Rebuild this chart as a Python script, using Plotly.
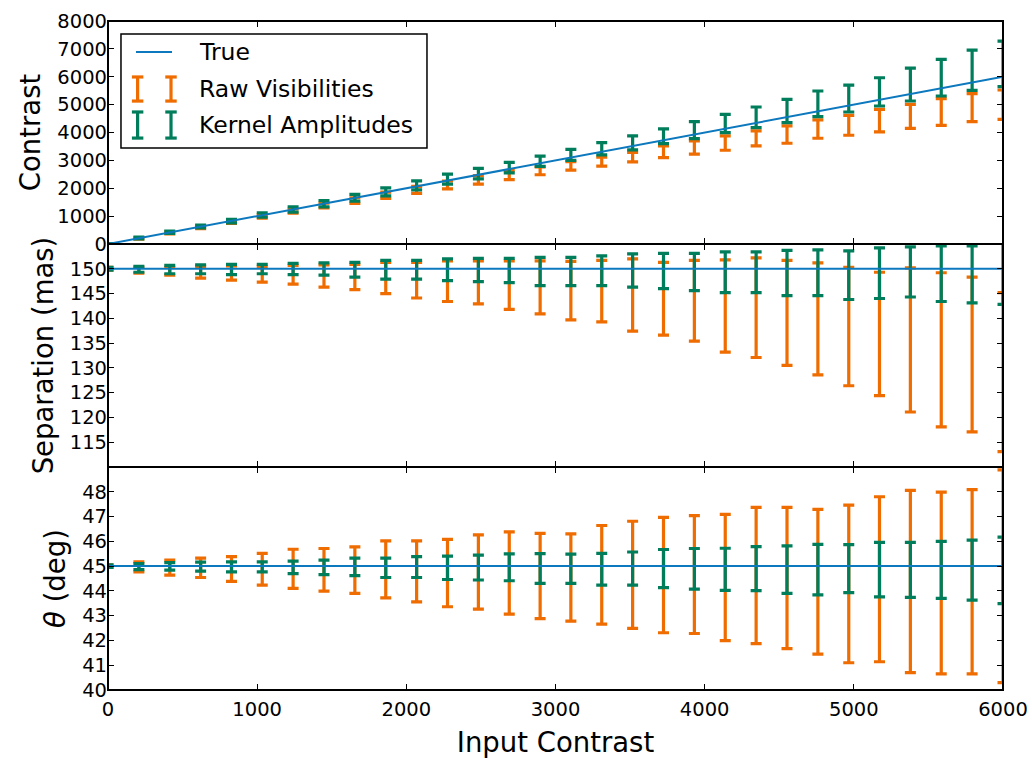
import plotly.graph_objects as go
from plotly.subplots import make_subplots

# ---------------- data ----------------
input_contrast = [0, 207, 414, 621, 828, 1034, 1241, 1448, 1655, 1862, 2069, 2276, 2483, 2690, 2897,
                  3103, 3310, 3517, 3724, 3931, 4138, 4345, 4552, 4759, 4966, 5172, 5379, 5586, 5793, 6000]

true_x = [0, 6000]
true_contrast = [0, 6000]
true_sep = [150, 150]
true_theta = [45, 45]

# Contrast panel
raw_con = [0, 200, 400, 600, 790, 990, 1180, 1380, 1560, 1750, 1940, 2120, 2300, 2470, 2625,
           2803, 2953, 3114, 3310, 3460, 3620, 3788, 3925, 4122, 4259, 4426, 4581, 4736, 4891, 4999]
raw_con_err = [15, 25, 35, 45, 55, 65, 75, 85, 100, 110, 125, 140, 150, 160, 140,
               155, 160, 170, 208, 238, 256, 268, 310, 328, 358, 406, 430, 477, 501, 525]
ker_con = [0, 215, 420, 625, 820, 1040, 1240, 1445, 1660, 1873, 2106, 2326, 2523, 2740, 2971,
           3197, 3418, 3626, 3865, 4086, 4325, 4545, 4772, 5028, 5219, 5458, 5720, 5965, 6233, 6460]
ker_con_err = [15, 30, 40, 50, 65, 80, 95, 110, 120, 143, 161, 179, 190, 185, 185,
               195, 221, 250, 262, 304, 328, 370, 418, 460, 483, 507, 590, 656, 722, 817]

# Separation panel
raw_sep = [150.0, 149.7, 149.5, 149.3, 149.15, 148.9, 148.8, 148.55, 148.35, 148.15, 147.7, 147.5, 147.25, 146.7, 146.25,
           145.6, 145.5, 144.7, 143.95, 143.55, 142.5, 142.15, 141.1, 139.9, 138.35, 136.85, 135.65, 133.65, 132.7, 129.15]
raw_sep_err = [0.3, 0.6, 0.8, 1.2, 1.45, 1.6, 1.9, 2.25, 2.55, 3.15, 3.6, 4.1, 4.35, 4.9, 5.35,
               5.9, 6.2, 7.3, 7.35, 8.15, 9.3, 10.05, 10.6, 11.3, 11.95, 12.45, 14.55, 15.55, 15.6, 16.05]
ker_sep = [150.0, 149.9, 149.85, 149.9, 149.85, 149.95, 149.95, 149.95, 149.8, 149.8, 149.8, 149.8, 149.75, 149.65, 149.45,
           149.45, 149.6, 149.65, 149.55, 149.35, 149.3, 149.3, 149.15, 149.2, 148.7, 149.1, 149.35, 149.0, 148.85, 149.9]
ker_sep_err = [0.3, 0.6, 0.85, 0.9, 1.05, 0.95, 1.15, 1.25, 1.5, 1.9, 1.9, 2.2, 2.35, 2.45, 2.85,
               2.85, 3.0, 3.35, 3.55, 3.75, 4.1, 4.1, 4.55, 4.6, 4.9, 5.1, 5.05, 5.6, 5.75, 7.1]

# Position angle panel
raw_th = [45.0, 44.97, 44.94, 44.93, 44.88, 44.87, 44.89, 44.85, 44.84, 44.87, 44.79, 44.72, 44.76, 44.72, 44.6,
          44.54, 44.65, 44.65, 44.64, 44.66, 44.54, 44.62, 44.52, 44.37, 44.28, 44.47, 44.38, 44.32, 44.37, 44.59]
raw_th_err = [0.05, 0.2, 0.3, 0.39, 0.5, 0.64, 0.79, 0.86, 0.94, 1.15, 1.23, 1.36, 1.5, 1.66, 1.72,
              1.76, 1.99, 2.16, 2.33, 2.38, 2.55, 2.75, 2.85, 2.92, 3.18, 3.33, 3.68, 3.67, 3.72, 4.29]
ker_th = [45.0, 44.98, 44.99, 44.98, 44.97, 44.97, 44.95, 44.95, 44.97, 44.93, 44.96, 44.93, 44.94, 44.95, 44.9,
          44.89, 44.87, 44.9, 44.9, 44.89, 44.87, 44.9, 44.86, 44.86, 44.9, 44.86, 44.85, 44.85, 44.84, 44.83]
ker_th_err = [0.05, 0.12, 0.15, 0.18, 0.2, 0.2, 0.25, 0.29, 0.35, 0.39, 0.42, 0.47, 0.5, 0.54, 0.6,
              0.59, 0.64, 0.67, 0.77, 0.82, 0.85, 0.89, 0.96, 1.02, 0.97, 1.1, 1.11, 1.15, 1.21, 1.34]

x_ticks = [0, 1000, 2000, 3000, 4000, 5000, 6000]
con_ticks = [0, 1000, 2000, 3000, 4000, 5000, 6000, 7000, 8000]
sep_ticks = [115, 120, 125, 130, 135, 140, 145, 150]
th_ticks = [40, 41, 42, 43, 44, 45, 46, 47, 48]

legend_labels = ["True", "Raw Visibilities", "Kernel Amplitudes"]

# ---------------- style ----------------
BLUE = "#0C78BE"
ORANGE = "#EE6C00"
GREEN = "#007D5B"
FONT = "DejaVu Sans"

fig = make_subplots(rows=3, cols=1, shared_xaxes=True, vertical_spacing=0)

panels = [
    (1, raw_con, raw_con_err, ker_con, ker_con_err, true_contrast),
    (2, raw_sep, raw_sep_err, ker_sep, ker_sep_err, true_sep),
    (3, raw_th, raw_th_err, ker_th, ker_th_err, true_theta),
]

for row, ry, re_, ky, ke, ty in panels:
    fig.add_trace(go.Scatter(
        x=input_contrast, y=ry, mode="markers",
        marker=dict(size=0, color="rgba(0,0,0,0)"),
        error_y=dict(type="data", array=re_, visible=True, color=ORANGE, thickness=3.2, width=5.5),
        showlegend=False, hoverinfo="skip"), row=row, col=1)
    fig.add_trace(go.Scatter(
        x=input_contrast, y=ky, mode="markers",
        marker=dict(size=0, color="rgba(0,0,0,0)"),
        error_y=dict(type="data", array=ke, visible=True, color=GREEN, thickness=3.2, width=5.5),
        showlegend=False, hoverinfo="skip"), row=row, col=1)
    fig.add_trace(go.Scatter(
        x=true_x, y=ty, mode="lines", line=dict(color=BLUE, width=2),
        showlegend=False, hoverinfo="skip"), row=row, col=1)

axis_common = dict(
    showline=False, mirror="ticks", automargin=False,
    ticks="inside", ticklen=6, tickwidth=1, tickcolor="black",
    showgrid=False, zeroline=False,
    tickfont=dict(family=FONT, size=19.5, color="black"),
)

for r in (1, 2, 3):
    fig.update_xaxes(range=[0, 6000], tickvals=x_ticks, row=r, col=1, **axis_common)
fig.update_xaxes(showticklabels=False, row=1, col=1)
fig.update_xaxes(showticklabels=False, row=2, col=1)
fig.update_xaxes(ticklabelstandoff=5,
                 title=dict(text="Input Contrast", font=dict(family=FONT, size=27.5, color="black"), standoff=14),
                 row=3, col=1)

fig.update_yaxes(range=[0, 8000], tickvals=con_ticks, row=1, col=1, **axis_common,
                 title=dict(text="Contrast", font=dict(family=FONT, size=27.5, color="black"), standoff=8))
fig.update_yaxes(range=[110, 155], tickvals=sep_ticks, row=2, col=1, **axis_common,
                 title=dict(text="Separation (mas)", font=dict(family=FONT, size=27.5, color="black"), standoff=8))
fig.update_yaxes(range=[40, 49], tickvals=th_ticks, row=3, col=1, **axis_common,
                 title=dict(text="<i>θ</i> (deg)", font=dict(family=FONT, size=27.5, color="black"), standoff=8))

# ---------------- panel frames ----------------
shapes = []
for xa, ya in (("x", "y"), ("x2", "y2"), ("x3", "y3")):
    shapes.append(dict(type="rect", xref=f"{xa} domain", yref=f"{ya} domain", x0=0, x1=1, y0=0, y1=1,
                       line=dict(color="black", width=2), fillcolor="rgba(0,0,0,0)", layer="above"))

# ---------------- manual legend (matplotlib style) ----------------
XR, YR = "x domain", "y domain"
shapes += [
    dict(type="rect", xref=XR, yref=YR, x0=0.0145, x1=0.3564, y0=0.4305, y1=0.9417,
         line=dict(color="black", width=1.5), fillcolor="white", layer="above"),
    dict(type="line", xref=XR, yref=YR, x0=0.0313, x1=0.0715, y0=0.861, y1=0.861,
         line=dict(color=BLUE, width=2), layer="above"),
]
for color, yt, yb in ((ORANGE, 0.749, 0.641), (GREEN, 0.592, 0.475)):
    for xc in (0.0331, 0.0704):
        shapes.append(dict(type="line", xref=XR, yref=YR, x0=xc, x1=xc, y0=yb, y1=yt,
                           line=dict(color=color, width=3.2), layer="above"))
        for yy in (yt, yb):
            shapes.append(dict(type="line", xref=XR, yref=YR, x0=xc - 0.0064, x1=xc + 0.0064, y0=yy, y1=yy,
                               line=dict(color=color, width=3.2), layer="above"))

annotations = []
for label, yy in zip(legend_labels, (0.861, 0.695, 0.534)):
    annotations.append(dict(text=label, xref=XR, yref=YR, x=0.0994, y=yy, xanchor="left", yanchor="middle",
                            showarrow=False, font=dict(family=FONT, size=23.5, color="black")))

fig.update_layout(
    width=1032, height=758,
    margin=dict(l=108, r=29, t=21, b=68),
    paper_bgcolor="white", plot_bgcolor="white",
    font=dict(family=FONT, color="black"),
    shapes=shapes, annotations=annotations,
    showlegend=False,
)

fig.write_html("out.html")
